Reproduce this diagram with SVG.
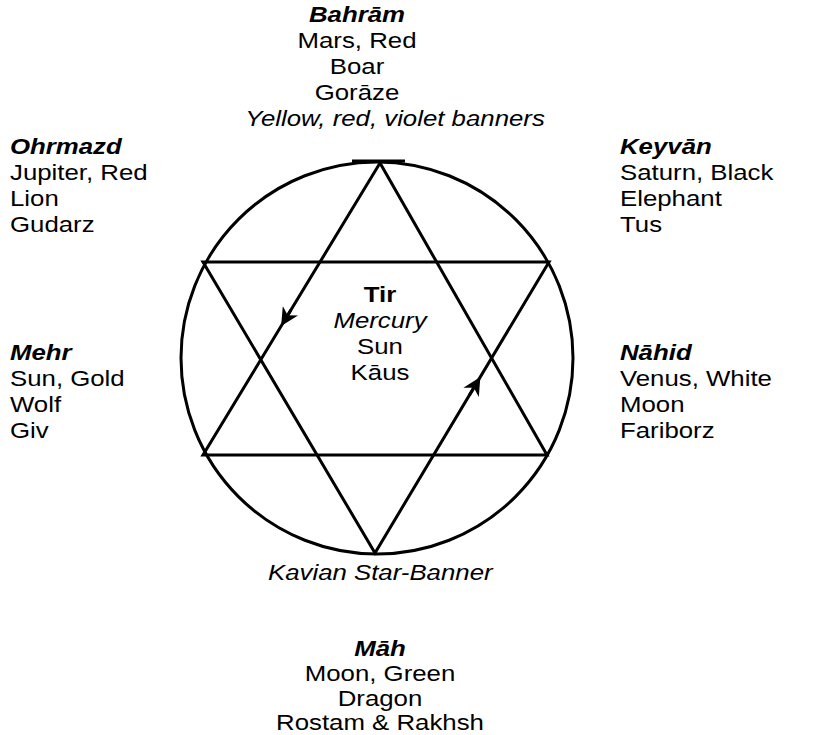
<svg xmlns="http://www.w3.org/2000/svg" width="817" height="735" viewBox="0 0 817 735">
<style>
text{font-family:"Liberation Sans",Arial,sans-serif;font-size:21.5px;fill:#000}
.h{font-weight:bold;font-style:italic}
.i{font-style:italic}
.b{font-weight:bold}
.m{text-anchor:middle}
.ln{fill:none;stroke:#000;stroke-width:3}
</style>
<defs>
<marker id="ah" viewBox="0 0 10 10" refX="8" refY="5" markerWidth="6" markerHeight="6" orient="auto">
<path d="M0,0 L10,5 L0,10 L3,5 z" fill="#000"/>
</marker>
</defs>
<g id="connectors">
<circle class="ln" cx="377" cy="358" r="196"/>
<line class="ln" x1="352" y1="161" x2="405" y2="161"/>
<polygon class="ln" points="380,163 203,455 547,455"/>
<polygon class="ln" points="203,262 549,262 375,553"/>
<path class="ln" d="M291.1,309.7 L283,323" marker-end="url(#ah)"/>
<path class="ln" d="M469.5,395 L478.5,380" marker-end="url(#ah)"/>
</g>
<g id="bahram">
<text class="h m" transform="translate(357,22) scale(1.2,1)">Bahrām</text>
<text class="m" transform="translate(357,48) scale(1.2,1)">Mars, Red</text>
<text class="m" transform="translate(357,74) scale(1.2,1)">Boar</text>
<text class="m" transform="translate(357,100) scale(1.2,1)">Gorāze</text>
<text class="i m" transform="translate(395,126) scale(1.2,1)">Yellow, red, violet banners</text>
</g>
<g id="ohrmazd">
<text class="h" transform="translate(10,154) scale(1.2,1)">Ohrmazd</text>
<text transform="translate(10,180) scale(1.2,1)">Jupiter, Red</text>
<text transform="translate(10,206) scale(1.2,1)">Lion</text>
<text transform="translate(10,232) scale(1.2,1)">Gudarz</text>
</g>
<g id="keyvan">
<text class="h" transform="translate(620,154) scale(1.2,1)">Keyvān</text>
<text transform="translate(620,180) scale(1.2,1)">Saturn, Black</text>
<text transform="translate(620,206) scale(1.2,1)">Elephant</text>
<text transform="translate(620,232) scale(1.2,1)">Tus</text>
</g>
<g id="tir">
<text class="b m" transform="translate(380,302) scale(1.2,1)">Tir</text>
<text class="i m" transform="translate(380,328) scale(1.2,1)">Mercury</text>
<text class="m" transform="translate(380,354) scale(1.2,1)">Sun</text>
<text class="m" transform="translate(380,380) scale(1.2,1)">Kāus</text>
</g>
<g id="mehr">
<text class="h" transform="translate(10,360) scale(1.2,1)">Mehr</text>
<text transform="translate(10,386) scale(1.2,1)">Sun, Gold</text>
<text transform="translate(10,412) scale(1.2,1)">Wolf</text>
<text transform="translate(10,438) scale(1.2,1)">Giv</text>
</g>
<g id="nahid">
<text class="h" transform="translate(620,360) scale(1.2,1)">Nāhid</text>
<text transform="translate(620,386) scale(1.2,1)">Venus, White</text>
<text transform="translate(620,412) scale(1.2,1)">Moon</text>
<text transform="translate(620,438) scale(1.2,1)">Fariborz</text>
</g>
<g id="kavian">
<text class="i" transform="translate(268,580) scale(1.2,1)">Kavian Star-Banner</text>
</g>
<g id="mah">
<text class="h m" transform="translate(380,656) scale(1.2,1)">Māh</text>
<text class="m" transform="translate(380,681) scale(1.2,1)">Moon, Green</text>
<text class="m" transform="translate(380,706) scale(1.2,1)">Dragon</text>
<text class="m" transform="translate(380,730) scale(1.2,1)">Rostam &amp; Rakhsh</text>
</g>
</svg>
